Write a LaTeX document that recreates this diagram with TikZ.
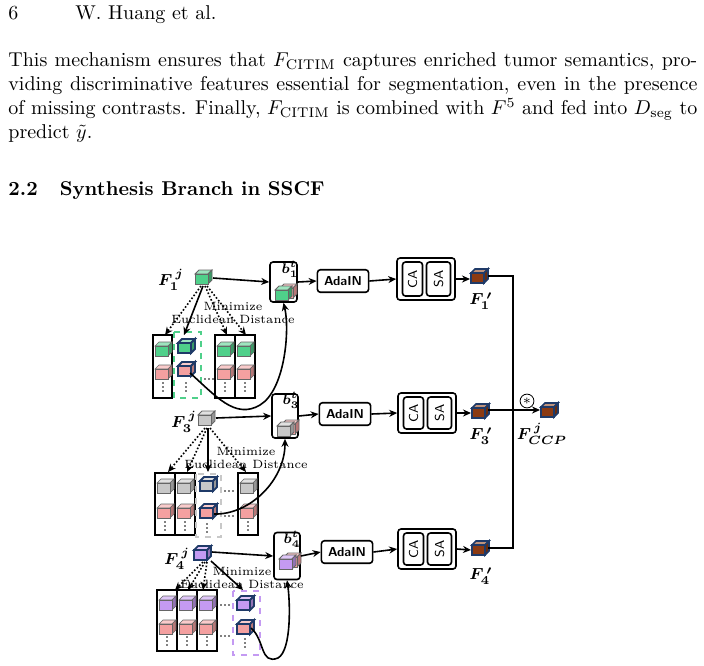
\documentclass[tikz,border=0pt]{standalone}
\usepackage{amsmath}
\usetikzlibrary{arrows.meta}
\definecolor{cgreen}{HTML}{4FD08A}
\definecolor{cpink}{HTML}{F4A0A0}
\definecolor{cgray}{HTML}{C8C8C8}
\definecolor{cpurp}{HTML}{C49AF2}
\definecolor{cbrown}{HTML}{8B3A12}
\definecolor{cnavy}{HTML}{1F3A68}
\newcommand{\mycube}[5][black!60]{%
 \begin{scope}[shift={(#2,#3)}]
  \filldraw[draw=#1,fill=#4!55!white,line width=#5] (-8,-3)--(-4,-7)--(9,-7)--(5,-3)--cycle;
  \filldraw[draw=#1,fill=#4!75!black,line width=#5] (5,-3)--(9,-7)--(9,3)--(5,7)--cycle;
  \filldraw[draw=#1,fill=#4,line width=#5] (-8,-3) rectangle (5,7);
 \end{scope}}
\newcommand{\vdotsat}[2]{\foreach \k in {0,4,8}{\fill (#1,#2+\k) circle (0.9);}}
\newcommand{\hdotsat}[2]{\foreach \k in {0,4,8}{\fill (#1+\k,#2) circle (0.9);}}
\tikzset{
 box/.style={draw,thick,rounded corners=1.5pt},
 arr/.style={-{Stealth[length=4pt,width=3.5pt]},thick},
 darr/.style={-{Stealth[length=4pt,width=3.5pt]},thick,densely dotted},
 lab/.style={font=\bfseries\fontsize{8}{9}\selectfont,inner sep=0pt},
 blab/.style={font=\bfseries\fontsize{7}{8}\selectfont,inner sep=0pt},
 small/.style={font=\fontsize{6}{6.4}\selectfont,align=center,inner sep=0pt},
 ada/.style={box,minimum width=25pt,minimum height=11pt,font=\sffamily\bfseries\fontsize{6.5}{7}\selectfont},
 rot/.style={rotate=90,font=\sffamily\fontsize{6.5}{7}\selectfont},
}
\begin{document}
\begin{tikzpicture}[x=0.5pt,y=-0.5pt]
\useasboundingbox (0,0) rectangle (704,665);
% page text
\node[anchor=base west,inner sep=0] (pn) at (8,19) {6};
\node[anchor=base west,inner sep=0] (hd) at (75,19) {W. Huang et al.};
\node[anchor=north west,inner sep=0,text width=344.5pt,align=justify] (par) at (8,52) {This mechanism ensures that $F_{\mathrm{CITIM}}$ captures enriched tumor semantics, pro-\linebreak viding discriminative features essential for segmentation, even in the presence\linebreak of missing contrasts. Finally, $F_{\mathrm{CITIM}}$ is combined with $F^5$ and fed into $D_{\mathrm{seg}}$ to\linebreak predict $\tilde{y}$.};
\node[anchor=base west,inner sep=0,font=\bfseries] (sec) at (8,195) {2.2\hspace{1.1em}Synthesis Branch in SSCF};

% ---------- Row 1 ----------
\node[lab] (f1) at (171,280) {$\boldsymbol{F_1^{\,j}}$};
\mycube{203}{277}{cgreen}{0.4pt}
\coordinate (c1) at (213,278);
\node[box,minimum width=13.5pt,minimum height=20pt] (b1) at (283.5,282) {};
\node[blab] at (290,269) {$\boldsymbol{b_1^t}$};
\mycube{288}{291}{cpink}{0.4pt}\mycube{283}{293}{cgreen}{0.4pt}
\draw[arr] (c1) -- (b1.west);
\node[ada] (a1) at (343,281) {AdaIN};
\draw[arr] (b1.east) -- (a1.west);
\node[box,minimum width=29pt,minimum height=21pt] (s1) at (426,279) {};
\node[box,minimum width=10pt,minimum height=17pt] (ca1) at (412.5,279) {};
\node[box,minimum width=12pt,minimum height=17pt] (sa1) at (438.5,279) {};
\node[rot] at (ca1) {CA};
\node[rot] at (sa1) {SA};
\draw[arr] (a1.east) -- (s1.west);
\mycube[cnavy]{479}{276}{cbrown}{0.8pt}
\coordinate (o1) at (470,279);
\draw[arr] (s1.east) -- (o1);
\node[lab] at (481,301) {$\boldsymbol{F_1^{\,\prime}}$};
% stacks
\draw[thick] (153,335) rectangle (172,398);
\draw[thick] (215,335) rectangle (235,398);
\draw[thick] (235,335) rectangle (255,398);
\draw[dashed,very thick,cgreen] (174,332) rectangle (201,398);
\foreach \x in {163,225,245}{\mycube{\x}{349}{cgreen}{0.3pt}\mycube{\x}{372}{cpink}{0.3pt}\vdotsat{\x}{383}}
\mycube[cnavy]{186}{346}{cgreen}{0.9pt}\mycube[cnavy]{186}{369}{cpink}{0.9pt}\vdotsat{186}{383}
\hdotsat{205}{379}
\coordinate (t11) at (165,335);\coordinate (t12) at (184,335);
\coordinate (t13) at (227,335);\coordinate (t14) at (246,335);
\draw[darr] (201,286) -- (t11);
\draw[arr] (203,286) -- (t12);
\draw[darr] (205,286) -- (t13);
\draw[darr] (207,286) -- (t14);
\node[small] (m1) at (233,313) {Minimize\\Euclidean Distance};
\coordinate (p1) at (190,373);
\draw[arr] (p1) .. controls (215,395) and (235,420) .. (260,405) .. controls (285,390) and (290,330) .. (b1.south);

% ---------- Row 2 ----------
\node[lab] (f3) at (184,422) {$\boldsymbol{F_3^{\,j}}$};
\mycube{206}{418}{cgray}{0.4pt}
\coordinate (c3) at (216,418);
\node[box,minimum width=13pt,minimum height=22pt] (b3) at (285,416) {};
\node[blab] at (291,400) {$\boldsymbol{b_3^t}$};
\mycube{290}{427}{cpink}{0.4pt}\mycube{285}{429}{cgray}{0.4pt}
\draw[arr] (c3) -- (b3.west);
\node[ada] (a3) at (345,414) {AdaIN};
\draw[arr] (b3.east) -- (a3.west);
\node[box,minimum width=29pt,minimum height=20pt] (s3) at (427,413) {};
\node[box,minimum width=10pt,minimum height=16pt] (ca3) at (413.5,413) {};
\node[box,minimum width=12pt,minimum height=16pt] (sa3) at (439.5,413) {};
\node[rot] at (ca3) {CA};
\node[rot] at (sa3) {SA};
\draw[arr] (a3.east) -- (s3.west);
\mycube[cnavy]{480}{411}{cbrown}{0.8pt}
\coordinate (o3) at (471,413);
\draw[arr] (s3.east) -- (o3);
\node[lab] at (481,436) {$\boldsymbol{F_3^{\,\prime}}$};
\draw[thick] (155,473) rectangle (175,535);
\draw[thick] (175,473) rectangle (195,535);
\draw[thick] (238,473) rectangle (258,535);
\draw[dashed,very thick,cgray] (196,474) rectangle (221,537);
\foreach \x in {165,185,248}{\mycube{\x}{486}{cgray}{0.3pt}\mycube{\x}{511}{cpink}{0.3pt}\vdotsat{\x}{522}}
\mycube[cnavy]{208}{484}{cgray}{0.9pt}\mycube[cnavy]{208}{511}{cpink}{0.9pt}\vdotsat{207}{524}
\hdotsat{225}{491}\hdotsat{225}{516}
\coordinate (t31) at (168,472);\coordinate (t32) at (187,472);
\coordinate (t33) at (208,472);\coordinate (t34) at (246,472);
\draw[darr] (205,428) -- (t31);
\draw[darr] (207,428) -- (t32);
\draw[arr] (208,428) -- (t33);
\draw[darr] (210,428) -- (t34);
\node[small] (m3) at (246,458) {Minimize\\Euclidean Distance};
\coordinate (p3) at (214,514);
\draw[arr] (p3) .. controls (250,515) and (285,480) .. (b3.south);

% ---------- Row 3 ----------
\node[lab] (f4) at (177,559) {$\boldsymbol{F_4^{\,j}}$};
\mycube[cnavy]{202}{553}{cpurp}{0.9pt}
\coordinate (c4) at (212,552);
\node[box,minimum width=13pt,minimum height=23.5pt] (b4) at (287,556) {};
\node[blab] at (292,539) {$\boldsymbol{b_4^t}$};
\mycube{292}{560}{cpink}{0.4pt}\mycube{287}{562}{cpurp}{0.4pt}
\draw[arr] (c4) -- (b4.west);
\node[ada] (a4) at (347,552) {AdaIN};
\draw[arr] (b4.east) -- (a4.west);
\node[box,minimum width=29pt,minimum height=20pt] (s4) at (427,549) {};
\node[box,minimum width=10pt,minimum height=16pt] (ca4) at (413.5,549) {};
\node[box,minimum width=12pt,minimum height=16pt] (sa4) at (439.5,549) {};
\node[rot] at (ca4) {CA};
\node[rot] at (sa4) {SA};
\draw[arr] (a4.east) -- (s4.west);
\mycube[cnavy]{480}{548}{cbrown}{0.8pt}
\coordinate (o4) at (471,550);
\draw[arr] (s4.east) -- (o4);
\node[lab] at (481,576) {$\boldsymbol{F_4^{\,\prime}}$};
\draw[thick] (157,590) rectangle (177,651);
\draw[thick] (177,590) rectangle (197,651);
\draw[thick] (197,590) rectangle (217,651);
\draw[dashed,very thick,cpurp] (233,591) rectangle (260,655);
\foreach \x in {167,187,207}{\mycube{\x}{603}{cpurp}{0.3pt}\mycube{\x}{627}{cpink}{0.3pt}\vdotsat{\x}{637}}
\mycube[cnavy]{245}{603}{cpurp}{0.9pt}\mycube[cnavy]{245}{627}{cpink}{0.9pt}\vdotsat{245}{639}
\hdotsat{221}{605}\hdotsat{221}{636}
\coordinate (t41) at (175,590);\coordinate (t42) at (188,590);
\coordinate (t43) at (203,590);\coordinate (t44) at (243,590);
\draw[darr] (203,562) -- (t41);
\draw[darr] (205,562) -- (t42);
\draw[darr] (207,562) -- (t43);
\draw[arr] (211,561) -- (t44);
\node[small] (m4) at (242,578) {Minimize\\Euclidean Distance};
\coordinate (p4) at (251,628);
\draw[arr] (p4) .. controls (265,640) and (260,665) .. (278,658) .. controls (292,650) and (290,600) .. (b4.south);

% ---------- fusion ----------
\coordinate (j1) at (513,276);\coordinate (j4) at (513,548);
\draw[thick] (488,276) -- (j1) -- (j4) -- (488,548);
\mycube[cnavy]{549}{410}{cbrown}{0.8pt}
\coordinate (o5) at (540,410);
\draw[arr] (488,410) -- (o5);
\node[draw,circle,inner sep=0.6pt,font=\fontsize{7}{7}\selectfont] (st) at (527,401) {$\ast$};
\node[lab] at (542,434) {$\boldsymbol{F_{CCP}^{\,j}}$};
\end{tikzpicture}
\end{document}
